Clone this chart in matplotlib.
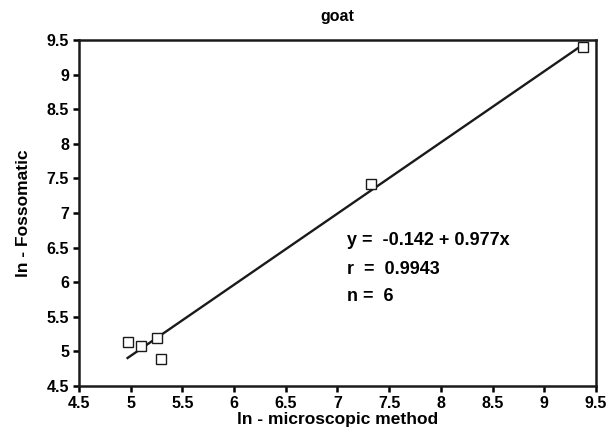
import matplotlib
matplotlib.use("Agg")
import matplotlib.pyplot as plt
import numpy as np

plt.rcParams['font.family'] = ['Liberation Sans', 'DejaVu Sans']
plt.rcParams['font.weight'] = 'bold'

# ln counts: microscopic method vs Fossomatic
ln_micro = [4.97, 5.10, 5.25, 5.29, 7.32, 9.37]
ln_fosso = [5.14, 5.08, 5.19, 4.89, 7.42, 9.40]

eq_text = "y =  -0.142 + 0.977x"
r_text = "r  =  0.9943"
n_text = "n =  6"

x = np.array(ln_micro)
y = np.array(ln_fosso)
slope, icept = np.polyfit(x, y, 1)
xs = np.array([x.min(), x.max()])

fig = plt.figure(figsize=(6.16, 4.34), dpi=100)
ax = fig.add_axes([0.1282, 0.1106, 0.8393, 0.7972])

ax.plot(xs, icept + slope * xs, color='#1a1a1a', lw=1.7, zorder=2)
ax.plot(x, y, 's', ms=7, mfc='white', mec='#1a1a1a', mew=1.0, zorder=3)

ax.set_xlim(4.5, 9.5)
ax.set_ylim(4.5, 9.5)
ticks = np.arange(4.5, 9.51, 0.5)
ax.set_xticks(ticks)
ax.set_yticks(ticks)
ax.set_xticklabels([f"{t:g}" for t in ticks])
ax.set_yticklabels([f"{t:g}" for t in ticks])
ax.tick_params(direction='out', length=4, width=1.8, labelsize=11.5,
               top=False, right=False, pad=3)
for s in ax.spines.values():
    s.set_linewidth(1.8)
    s.set_color('#1a1a1a')

ax.set_xlabel("ln - microscopic method", fontsize=12.5, fontweight='bold', labelpad=1)
ax.set_ylabel("ln - Fossomatic", fontsize=12.5, fontweight='bold', labelpad=11)
ax.set_title("goat", fontsize=11.5, fontweight='bold', pad=14)

for txt, ty in [(eq_text, 6.6), (r_text, 6.19), (n_text, 5.79)]:
    ax.text(7.09, ty, txt, fontsize=13, fontweight='bold', va='center', ha='left')

fig.savefig("out.png", dpi=100)
